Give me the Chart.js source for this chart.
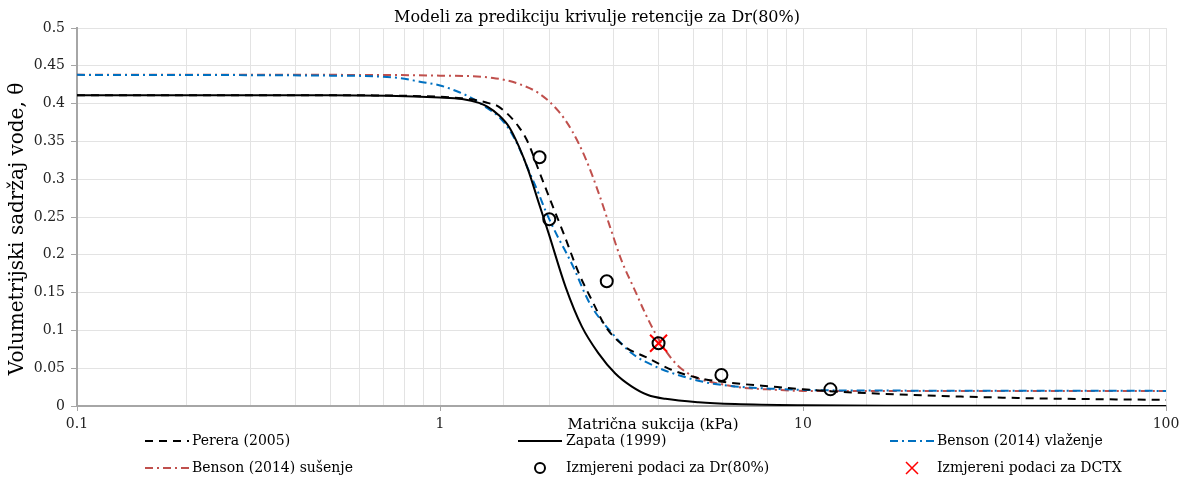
<!DOCTYPE html>
<html>
<head>
<meta charset="utf-8">
<title>Modeli za predikciju krivulje retencije za Dr(80%)</title>
<script src="https://cdn.jsdelivr.net/npm/chart.js@4.4.1/dist/chart.umd.min.js"></script>
<style>
    html, body { margin: 0; padding: 0; background: #fff; }
    #wrap { width: 1198px; height: 480px; }
</style>
</head>
<body>
<div id="wrap"><canvas id="retention" width="1198" height="480"></canvas></div>
<script>
// Suction (kPa) and volumetric water content
var pereraKpa   = [0.1, 0.5, 1, 1.15, 1.28, 1.35, 1.45, 1.65, 1.75, 1.87, 2.03, 2.2, 2.41, 2.62, 2.86, 3.24, 3.68, 4.34, 5.05, 6, 8.5, 10, 15, 39, 100];
var pereraTheta = [0.411, 0.411, 0.409, 0.407, 0.404, 0.401, 0.396, 0.369, 0.348, 0.312, 0.268, 0.226, 0.176, 0.140, 0.105, 0.078, 0.065, 0.048, 0.038, 0.032, 0.025, 0.022, 0.017, 0.0106, 0.008];

var zapataKpa   = [0.1, 0.5, 1, 1.15, 1.28, 1.35, 1.45, 1.55, 1.65, 1.75, 1.87, 1.99, 2.22, 2.46, 2.73, 3.04, 3.37, 3.74, 4.18, 5.15, 6.5, 10, 20, 100];
var zapataTheta = [0.411, 0.411, 0.408, 0.406, 0.401, 0.396, 0.385, 0.369, 0.343, 0.312, 0.269, 0.229, 0.157, 0.105, 0.070, 0.043, 0.026, 0.0145, 0.0095, 0.005, 0.0026, 0.001, 0.0004, 0.0];

var wetKpa   = [0.1, 0.5, 0.77, 0.88, 1.0, 1.13, 1.25, 1.34, 1.45, 1.55, 1.65, 1.75, 1.87, 1.95, 2.12, 2.22, 2.36, 2.5, 2.62, 2.97, 3.37, 3.93, 4.53, 5.57, 8.5, 15, 100];
var wetTheta = [0.438, 0.437, 0.434, 0.429, 0.424, 0.415, 0.405, 0.395, 0.383, 0.366, 0.342, 0.313, 0.281, 0.259, 0.222, 0.204, 0.178, 0.150, 0.131, 0.097, 0.070, 0.052, 0.041, 0.030, 0.0225, 0.0205, 0.020];

var dryKpa   = [0.1, 0.5, 1, 1.4, 1.65, 1.88, 2.12, 2.31, 2.52, 2.73, 2.94, 3.16, 3.45, 3.68, 3.93, 4.2, 4.53, 5.05, 5.95, 6.9, 8, 10, 100];
var dryTheta = [0.438, 0.438, 0.437, 0.434, 0.426, 0.413, 0.39, 0.364, 0.327, 0.283, 0.237, 0.193, 0.152, 0.122, 0.095, 0.072, 0.053, 0.038, 0.029, 0.024, 0.022, 0.020, 0.020];

// Measured points
var measuredKpa   = [1.88, 2.0, 2.88, 4.0, 5.96, 11.9];
var measuredTheta = [0.329, 0.247, 0.165, 0.083, 0.041, 0.022];
var dctxKpa   = [4.0];
var dctxTheta = [0.083];

var decadeLabels = [0.1, 1, 10, 100];

var FONT = "'DejaVu Serif', 'Liberation Serif', serif";

function toPoints(xs, ys) {
    return xs.map(function (x, i) { return {x: x, y: ys[i]}; });
}

function isDecade(v) {
    for (var i = 0; i < decadeLabels.length; i++) {
        if (Math.abs(v - decadeLabels[i]) < decadeLabels[i] * 1e-6) return decadeLabels[i];
    }
    return null;
}

// Title, axis titles and legend, drawn round the plot in fixed places
var sideText = {
    id: 'sideText',
    afterDraw: function (chart) {
        var ctx = chart.ctx;
        var ds = chart.data.datasets;
        ctx.save();
        ctx.fillStyle = '#000';
        ctx.textBaseline = 'middle';
        ctx.textAlign = 'center';

        ctx.font = '16px ' + FONT;
        ctx.fillText('Modeli za predikciju krivulje retencije za Dr(80%)', 597, 18);

        ctx.font = '15px ' + FONT;
        ctx.fillText('Matrična sukcija (kPa)', 653, 425);

        ctx.save();
        ctx.font = '20px ' + FONT;
        ctx.translate(18, 229);
        ctx.rotate(-Math.PI / 2);
        ctx.fillText('Volumetrijski sadržaj vode, θ', 0, 0);
        ctx.restore();

        var rows = [[3, 2, 4], [5, 0, 1]];
        var cols = [145, 518, 890];
        var textX = [192, 566, 937];
        var rowY = [441, 468];
        ctx.font = '14px ' + FONT;
        ctx.textAlign = 'left';
        rows.forEach(function (row, r) {
            row.forEach(function (idx, c) {
                var d = ds[idx];
                var y = rowY[r];
                ctx.save();
                ctx.strokeStyle = d.borderColor;
                ctx.lineWidth = 2;
                if (d.showLine === false) {
                    var cx = cols[c] + 22;
                    ctx.beginPath();
                    if (d.pointStyle === 'circle') {
                        ctx.arc(cx, y, 5, 0, Math.PI * 2);
                    } else {
                        ctx.lineWidth = 1.5;
                        ctx.moveTo(cx - 6, y - 6); ctx.lineTo(cx + 6, y + 6);
                        ctx.moveTo(cx + 6, y - 6); ctx.lineTo(cx - 6, y + 6);
                    }
                    ctx.stroke();
                } else {
                    ctx.setLineDash(d.borderDash || []);
                    ctx.beginPath();
                    ctx.moveTo(cols[c], y);
                    ctx.lineTo(cols[c] + 44, y);
                    ctx.stroke();
                }
                ctx.restore();
                ctx.fillText(d.label, textX[c], y);
            });
        });
        ctx.restore();
    }
};

var lineBase = {
    showLine: true,
    pointRadius: 0,
    borderWidth: 2,
    fill: false,
    cubicInterpolationMode: 'monotone'
};

var ctx = document.getElementById('retention').getContext('2d');
var chart = new Chart(ctx, {
    type: 'line',
    data: {
        datasets: [
            {
                label: 'Izmjereni podaci za Dr(80%)',
                data: toPoints(measuredKpa, measuredTheta),
                showLine: false,
                pointStyle: 'circle',
                pointRadius: 6,
                pointBorderWidth: 2,
                borderColor: '#000000',
                backgroundColor: 'rgba(0,0,0,0)'
            },
            {
                label: 'Izmjereni podaci za DCTX',
                data: toPoints(dctxKpa, dctxTheta),
                showLine: false,
                pointStyle: 'crossRot',
                pointRadius: 12,
                pointBorderWidth: 2,
                borderColor: '#ff0000',
                backgroundColor: '#ff0000'
            },
            Object.assign({}, lineBase, {
                label: 'Zapata (1999)',
                data: toPoints(zapataKpa, zapataTheta),
                borderColor: '#000000'
            }),
            Object.assign({}, lineBase, {
                label: 'Perera (2005)',
                data: toPoints(pereraKpa, pereraTheta),
                borderColor: '#000000',
                borderDash: [8, 6]
            }),
            Object.assign({}, lineBase, {
                label: 'Benson (2014) vlaženje',
                data: toPoints(wetKpa, wetTheta),
                borderColor: '#0070c0',
                borderDash: [8, 4, 2, 4]
            }),
            Object.assign({}, lineBase, {
                label: 'Benson (2014) sušenje',
                data: toPoints(dryKpa, dryTheta),
                borderColor: '#c0504d',
                borderDash: [8, 4, 2, 4]
            })
        ]
    },
    options: {
        responsive: false,
        animation: false,
        layout: {padding: {top: 28, right: 32, bottom: 44, left: 0}},
        plugins: {
            legend: {display: false},
            tooltip: {enabled: false},
            title: {display: false}
        },
        scales: {
            x: {
                type: 'logarithmic',
                min: 0.1,
                max: 100,
                afterFit: function (scale) { scale.height = 30; },
                border: {color: '#a6a6a6', width: 2},
                grid: {
                    color: '#e3e3e3',
                    tickLength: 5,
                    tickColor: function (c) { return isDecade(c.tick.value) ? '#a6a6a6' : 'rgba(0,0,0,0)'; }
                },
                ticks: {
                    autoSkip: false,
                    maxRotation: 0,
                    padding: 5,
                    color: '#222',
                    font: {family: FONT, size: 14},
                    callback: function (v) {
                        var d = isDecade(v);
                        return d === null ? '' : String(d);
                    }
                }
            },
            y: {
                min: 0,
                max: 0.5,
                afterFit: function (scale) { scale.width = 77; },
                border: {color: '#a6a6a6', width: 2},
                grid: {color: '#e3e3e3', tickLength: 6, tickColor: '#a6a6a6'},
                ticks: {
                    stepSize: 0.05,
                    padding: 6,
                    color: '#222',
                    font: {family: FONT, size: 14},
                    callback: function (v) { return String(+v.toFixed(2)); }
                }
            }
        }
    },
    plugins: [sideText]
});
</script>
</body>
</html>
